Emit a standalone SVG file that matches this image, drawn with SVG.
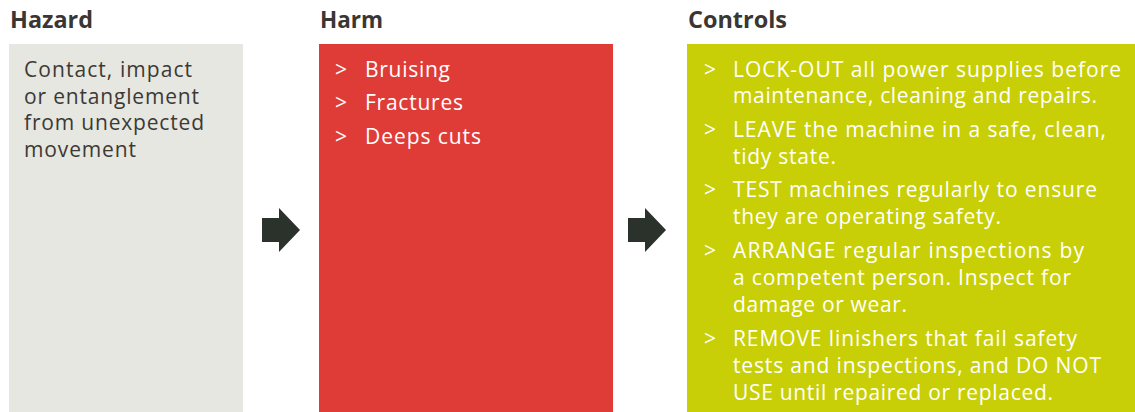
<svg xmlns="http://www.w3.org/2000/svg" width="1135" height="412" viewBox="0 0 1135 412">
<defs>
<style>
.hdr{font-family:"Open Sans","Noto Sans","Liberation Sans",sans-serif;font-weight:700;font-size:23px;fill:#3a3633}
.body{font-family:"Open Sans","Noto Sans","Liberation Sans",sans-serif;font-size:21px}
.dark{fill:#3d3935}
.light{fill:#ffffff}
.arrow{fill:#2b322c}
</style>
</defs>
<rect width="1135" height="412" fill="#ffffff"/>
<g id="hazard">
<text class="hdr" x="10" y="28" textLength="83" lengthAdjust="spacingAndGlyphs">Hazard</text>
<rect x="9" y="44" width="234" height="368" fill="#e6e7e0"/>
<text class="body dark" x="24" y="77" textLength="168">Contact, impact</text>
<text class="body dark" x="24" y="104" textLength="175">or entanglement</text>
<text class="body dark" x="24" y="130" textLength="180">from unexpected</text>
<text class="body dark" x="24" y="157" textLength="112">movement</text>
</g>
<g id="harm">
<text class="hdr" x="320" y="28" textLength="63" lengthAdjust="spacingAndGlyphs">Harm</text>
<rect x="319" y="44" width="294" height="368" fill="#e03c37"/>
<text class="body light" x="335" y="77">&gt;</text>
<text class="body light" x="365" y="77" textLength="85">Bruising</text>
<text class="body light" x="335" y="110">&gt;</text>
<text class="body light" x="365" y="110" textLength="98">Fractures</text>
<text class="body light" x="335" y="144">&gt;</text>
<text class="body light" x="365" y="144" textLength="116">Deeps cuts</text>
</g>
<g id="controls">
<text class="hdr" x="688" y="28" textLength="99" lengthAdjust="spacingAndGlyphs">Controls</text>
<rect x="687" y="44" width="448" height="368" fill="#c8cf06"/>
<text class="body light" x="704" y="77">&gt;</text>
<text class="body light" x="733" y="77" textLength="388">LOCK-OUT all power supplies before</text>
<text class="body light" x="733" y="103" textLength="364">maintenance, cleaning and repairs.</text>
<text class="body light" x="704" y="137">&gt;</text>
<text class="body light" x="733" y="137" textLength="373">LEAVE the machine in a safe, clean,</text>
<text class="body light" x="733" y="164" textLength="103">tidy state.</text>
<text class="body light" x="704" y="197">&gt;</text>
<text class="body light" x="733" y="197" textLength="364">TEST machines regularly to ensure</text>
<text class="body light" x="733" y="224" textLength="268">they are operating safety.</text>
<text class="body light" x="704" y="258">&gt;</text>
<text class="body light" x="733" y="258" textLength="351">ARRANGE regular inspections by</text>
<text class="body light" x="733" y="285" textLength="338">a competent person. Inspect for</text>
<text class="body light" x="733" y="312" textLength="174">damage or wear.</text>
<text class="body light" x="704" y="346">&gt;</text>
<text class="body light" x="733" y="346" textLength="344">REMOVE linishers that fail safety</text>
<text class="body light" x="733" y="373" textLength="368">tests and inspections, and DO NOT</text>
<text class="body light" x="733" y="400" textLength="320">USE until repaired or replaced.</text>
</g>
<g id="connectors">
<polygon class="arrow" points="262,218 279,218 279,208 300,230 279,252 279,242 262,242"/>
<polygon class="arrow" points="628,218 645,218 645,208 666,230 645,252 645,242 628,242"/>
</g>
</svg>
